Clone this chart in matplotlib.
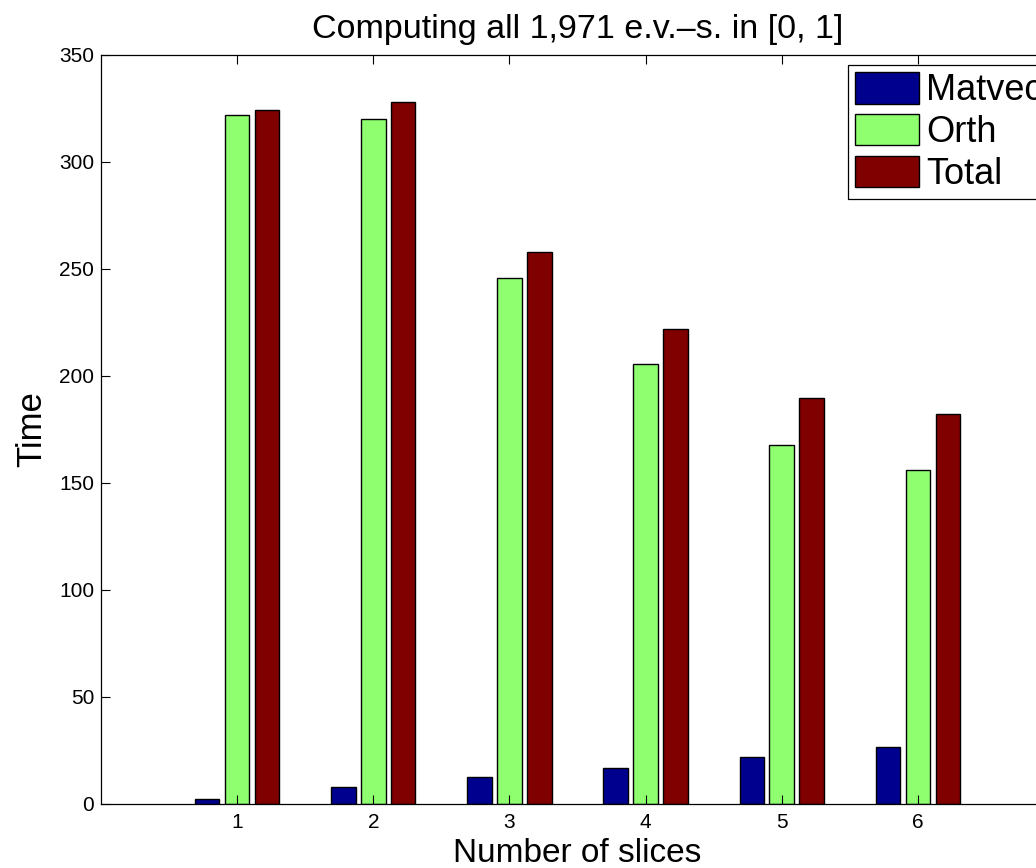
import numpy as np
import matplotlib
matplotlib.use("Agg")
import matplotlib.pyplot as plt

plt.rcParams['font.family'] = ['Liberation Sans', 'DejaVu Sans']

# timings per number of slices
slices = [1, 2, 3, 4, 5, 6]
matvec = [2.2, 7.8, 12.2, 16.5, 21.8, 26.6]
orth = [322.1, 320.0, 245.5, 205.3, 167.6, 155.7]
total = [324.4, 327.9, 257.8, 221.8, 189.8, 182.3]
labels = ["Matvec", "Orth", "Total"]
colors = ["#00008F", "#8FFF70", "#800000"]

fig = plt.figure(figsize=(10.36, 8.68), dpi=100)
# axes run to x=7, a little past the right edge of the figure
ax = fig.add_axes([101 / 1036, 64.5 / 868, 953 / 1036, 748.6 / 868])

x = np.array(slices, dtype=float)
width = 0.18
offsets = [-0.22, 0.0, 0.22]
for series, off, col, lab in zip([matvec, orth, total], offsets, colors, labels):
    ax.bar(x + off, series, width, color=col, edgecolor="black", linewidth=1.0, label=lab)

ax.set_xlim(0, 7)
ax.set_ylim(0, 350)
ax.set_xticks(slices)
ax.set_yticks(np.arange(0, 351, 50))
ax.tick_params(direction="in", top=True, right=True, length=6.5, width=0.8,
               labelsize=15)
ax.tick_params(axis="x", pad=7)
ax.tick_params(axis="y", pad=5)
for sp in ax.spines.values():
    sp.set_linewidth(0.9)

ax.set_xlabel("Number of slices", fontsize=24, labelpad=4.5)
ax.set_ylabel("Time", fontsize=25, labelpad=8)
ax.set_title("Computing all 1,971 e.v.\u2013s. in [0, 1]", fontsize=24.5, pad=12.5)

leg = ax.legend(loc="upper left", bbox_to_anchor=(848 / 1036, 1 - 65 / 868),
                bbox_transform=fig.transFigure, borderaxespad=0,
                fontsize=26, handlelength=1.77, handleheight=0.96,
                handletextpad=0.2, borderpad=0.2, labelspacing=0.16,
                fancybox=False, framealpha=1, edgecolor="black")
leg.get_frame().set_linewidth(0.9)

fig.savefig("out.png", dpi=100)
